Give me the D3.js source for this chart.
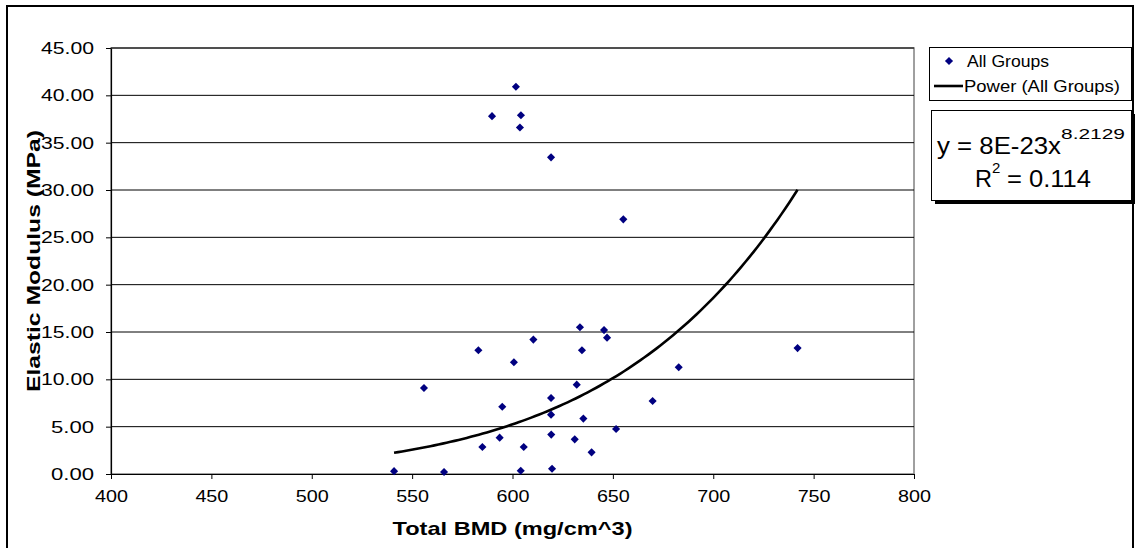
<!DOCTYPE html>
<html>
<head>
<meta charset="utf-8">
<script src="https://cdn.jsdelivr.net/npm/d3@7"></script>
<style>
  html, body { margin: 0; padding: 0; background: #fff; }
  svg { display: block; font-family: "Liberation Sans", Arial, sans-serif; }
</style>
</head>
<body>
<svg id="chart" width="1138" height="548"></svg>
<script>
// Total BMD (mg/cm^3) and elastic modulus (MPa) for each specimen
const bmd = [541.0, 565.9, 555.9, 583.0, 585.0, 589.8, 593.6, 594.9, 600.7, 601.7,
             604.2, 603.7, 604.1, 605.6, 610.4, 619.2, 619.2, 619.2, 619.3, 619.7,
             631.0, 632.0, 633.6, 634.6, 635.3, 639.4, 645.6, 647.1, 651.6, 655.2,
             669.8, 682.8, 742.0];
const modulus = [0.30, 0.21, 9.08, 13.07, 2.85, 37.80, 3.84, 7.11, 11.80, 40.90,
                 37.90, 36.60, 0.35, 2.85, 14.20, 33.45, 8.03, 6.27, 4.16, 0.56,
                 3.66, 9.44, 15.50, 13.07, 5.85, 2.29, 15.20, 14.40, 4.75, 26.90,
                 7.71, 11.27, 13.30];

// Power trendline: y = a * x^b
const powerA = 8e-23;
const powerB = 8.2129;
const rSquared = 0.114;

const xTicks = [400, 450, 500, 550, 600, 650, 700, 750, 800];
const yTicks = [0, 5, 10, 15, 20, 25, 30, 35, 40, 45];

const svg = d3.select("#chart");
const plot = { left: 111, right: 914, top: 48, bottom: 474 };
const FONT = "Liberation Sans, Arial, sans-serif";

// Outer chart frame
svg.append("rect")
  .attr("x", 7).attr("y", 6).attr("width", 1126).attr("height", 546)
  .attr("fill", "#fff").attr("stroke", "#000").attr("stroke-width", 2);

const x = d3.scaleLinear().domain([400, 800]).range([plot.left, plot.right]);
const y = d3.scaleLinear().domain([0, 45]).range([plot.bottom, plot.top]);

// Plot area border
svg.append("rect")
  .attr("x", plot.left).attr("y", plot.top)
  .attr("width", plot.right - plot.left).attr("height", plot.bottom - plot.top)
  .attr("fill", "none").attr("stroke", "#808080").attr("stroke-width", 1.5);

// Horizontal gridlines
svg.append("g")
  .selectAll("line")
  .data(yTicks.filter(t => t > 0))
  .join("line")
  .attr("x1", plot.left).attr("x2", plot.right)
  .attr("y1", d => y(d)).attr("y2", d => y(d))
  .attr("stroke", "#000").attr("stroke-width", 1);

// Y axis
const fmtY = d3.format(".2f");
const yAxis = svg.append("g")
  .attr("transform", `translate(${plot.left},0)`)
  .call(d3.axisLeft(y).tickValues(yTicks).tickFormat(fmtY)
        .tickSizeInner(5).tickSizeOuter(0).tickPadding(12));
yAxis.select(".domain").attr("stroke", "#000").attr("stroke-width", 1.2);
yAxis.selectAll(".tick line").attr("stroke", "#000");
yAxis.selectAll(".tick text")
  .attr("font-family", FONT).attr("font-size", 17).attr("fill", "#000")
  .attr("textLength", d => fmtY(d).length === 5 ? 53 : 43)
  .attr("lengthAdjust", "spacingAndGlyphs");

// X axis
const xAxis = svg.append("g")
  .attr("transform", `translate(0,${plot.bottom})`)
  .call(d3.axisBottom(x).tickValues(xTicks).tickFormat(d3.format("d"))
        .tickSizeInner(5).tickSizeOuter(0).tickPadding(11));
xAxis.select(".domain").attr("stroke", "#000").attr("stroke-width", 1.2);
xAxis.selectAll(".tick line").attr("stroke", "#000");
xAxis.selectAll(".tick text")
  .attr("font-family", FONT).attr("font-size", 17).attr("fill", "#000")
  .attr("textLength", 33).attr("lengthAdjust", "spacingAndGlyphs");

// Axis titles
svg.append("text")
  .attr("x", (plot.left + plot.right) / 2).attr("y", 535)
  .attr("text-anchor", "middle")
  .attr("font-size", 19).attr("font-weight", "bold")
  .attr("textLength", 240).attr("lengthAdjust", "spacingAndGlyphs")
  .text("Total BMD (mg/cm^3)");

svg.append("text")
  .attr("transform", `translate(40,${(plot.top + plot.bottom) / 2}) rotate(-90)`)
  .attr("text-anchor", "middle")
  .attr("font-size", 19).attr("font-weight", "bold")
  .attr("textLength", 262).attr("lengthAdjust", "spacingAndGlyphs")
  .text("Elastic Modulus (MPa)");

// Power trendline over the data's BMD range
const [xMin, xMax] = d3.extent(bmd);
const curvePts = d3.range(0, 101).map(i => {
  const xv = xMin + (xMax - xMin) * i / 100;
  return [xv, powerA * Math.pow(xv, powerB)];
});
svg.append("path")
  .datum(curvePts)
  .attr("fill", "none").attr("stroke", "#000").attr("stroke-width", 2.6)
  .attr("d", d3.line().x(d => x(d[0])).y(d => y(d[1])));

// Data points (diamonds)
const diamond = d3.symbol().type(d3.symbolDiamond2).size(42);
const points = bmd.map((b, i) => [b, modulus[i]]);
svg.append("g")
  .selectAll("path")
  .data(points)
  .join("path")
  .attr("transform", d => `translate(${x(d[0])},${y(d[1])})`)
  .attr("d", diamond)
  .attr("fill", "#000080");

// Legend
const legend = svg.append("g");
legend.append("rect")
  .attr("x", 929.5).attr("y", 47.5).attr("width", 202).attr("height", 53)
  .attr("fill", "#fff").attr("stroke", "#000").attr("stroke-width", 1);
legend.append("path")
  .attr("transform", "translate(949,61)")
  .attr("d", diamond).attr("fill", "#000080");
legend.append("text")
  .attr("x", 967).attr("y", 67).attr("font-size", 17)
  .attr("textLength", 82).attr("lengthAdjust", "spacingAndGlyphs")
  .text("All Groups");
legend.append("line")
  .attr("x1", 934).attr("x2", 963).attr("y1", 86).attr("y2", 86)
  .attr("stroke", "#000").attr("stroke-width", 2.6);
legend.append("text")
  .attr("x", 964).attr("y", 92).attr("font-size", 17)
  .attr("textLength", 156).attr("lengthAdjust", "spacingAndGlyphs")
  .text("Power (All Groups)");

// Trendline equation box with drop shadow
const eq = svg.append("g");
eq.append("rect")
  .attr("x", 935).attr("y", 114).attr("width", 200).attr("height", 90)
  .attr("fill", "#000");
eq.append("rect")
  .attr("x", 931.5).attr("y", 110.5).attr("width", 200).attr("height", 90)
  .attr("fill", "#fff").attr("stroke", "#000").attr("stroke-width", 1);
eq.append("text")
  .attr("x", 937).attr("y", 154).attr("font-size", 23)
  .attr("textLength", 124).attr("lengthAdjust", "spacingAndGlyphs")
  .text(`y = ${powerA.toExponential(0).replace("e", "E")}x`);
eq.append("text")
  .attr("x", 1061).attr("y", 139).attr("font-size", 15)
  .attr("textLength", 64).attr("lengthAdjust", "spacingAndGlyphs")
  .text(powerB.toFixed(4));
eq.append("text")
  .attr("x", 975).attr("y", 187).attr("font-size", 23)
  .attr("textLength", 17).attr("lengthAdjust", "spacingAndGlyphs")
  .text("R");
eq.append("text")
  .attr("x", 992).attr("y", 173).attr("font-size", 15)
  .text("2");
eq.append("text")
  .attr("x", 1007).attr("y", 187).attr("font-size", 23)
  .attr("textLength", 84).attr("lengthAdjust", "spacingAndGlyphs")
  .text(`= ${rSquared.toFixed(3)}`);
</script>
</body>
</html>
